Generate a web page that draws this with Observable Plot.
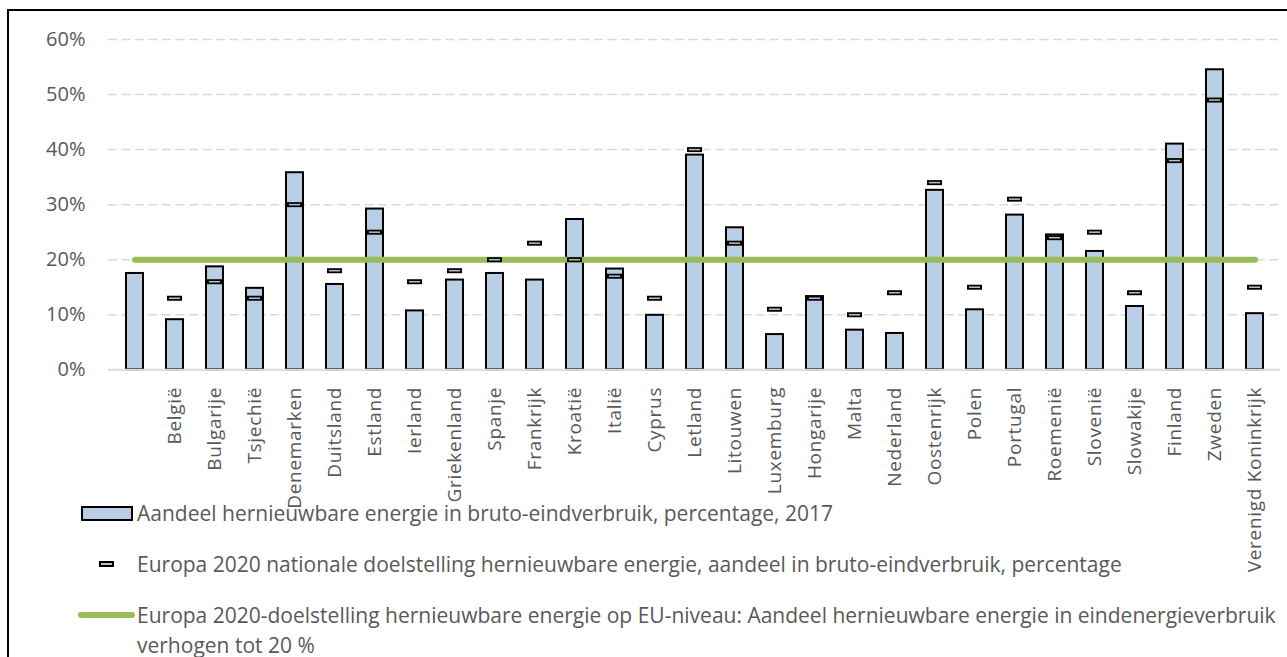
<!DOCTYPE html>
<html><head><meta charset="utf-8">
<script src="https://cdn.jsdelivr.net/npm/d3@7"></script>
<script src="https://cdn.jsdelivr.net/npm/@observablehq/plot@0.6"></script>
<style>
html,body{margin:0;padding:0;background:#fff;overflow:hidden;width:1287px;height:657px;}
#wrap{position:relative;width:1287px;height:657px;font-family:"Open Sans",sans-serif;}
#frame{position:absolute;left:7px;top:9px;width:2000px;height:2000px;border-left:2px solid #000;border-top:2px solid #000;}
#chart{position:absolute;left:0;top:0;}
#chart svg g[aria-label="x-axis tick label"] text{letter-spacing:0.7px;}
.leg{position:absolute;left:137px;color:#595959;font-size:21px;line-height:30px;white-space:nowrap;font-family:"Open Sans",sans-serif;}
.sw{position:absolute;box-sizing:border-box;}
</style></head>
<body>
<div id="wrap">
  <div id="frame"></div>
  <div id="chart"></div>
  <div class="sw" style="left:81px;top:506px;width:52px;height:15px;border:2px solid #000;background:#b9cde5;"></div>
  <div class="leg" style="top:498px;">Aandeel hernieuwbare energie in bruto-eindverbruik, percentage, 2017</div>
  <div class="sw" style="left:99px;top:561px;width:15px;height:6px;border:2px solid #000;background:#bfbfbf;"></div>
  <div class="leg" style="top:549px;">Europa 2020 nationale doelstelling hernieuwbare energie, aandeel in bruto-eindverbruik, percentage</div>
  <div class="sw" style="left:78px;top:612px;width:57px;height:6px;border-radius:3px;background:#9bbb59;"></div>
  <div class="leg" style="top:600px;">Europa 2020-doelstelling hernieuwbare energie op EU-niveau: Aandeel hernieuwbare energie in eindenergieverbruik<br>verhogen tot 20 %</div>
</div>
<script>
const countries = ["EU-28","België","Bulgarije","Tsjechië","Denemarken","Duitsland","Estland","Ierland","Griekenland","Spanje","Frankrijk","Kroatië","Italië","Cyprus","Letland","Litouwen","Luxemburg","Hongarije","Malta","Nederland","Oostenrijk","Polen","Portugal","Roemenië","Slovenië","Slowakije","Finland","Zweden","Verenigd Koninkrijk"];
const tickLabels = ["","België","Bulgarije","Tsjechië","Denemarken","Duitsland","Estland","Ierland","Griekenland","Spanje","Frankrijk","Kroatië","Italië","Cyprus","Letland","Litouwen","Luxemburg","Hongarije","Malta","Nederland","Oostenrijk","Polen","Portugal","Roemenië","Slovenië","Slowakije","Finland","Zweden","Verenigd Koninkrijk"];
const share2017 = [17.5,9.1,18.7,14.8,35.8,15.5,29.2,10.7,16.3,17.5,16.3,27.3,18.3,9.9,39.0,25.8,6.4,13.3,7.2,6.6,32.6,10.9,28.1,24.5,21.5,11.5,41.0,54.5,10.2];
const target2020 = [null,13,16,13,30,18,25,16,18,20,23,20,17,13,40,23,11,13,10,14,34,15,31,24,25,14,38,49,15];
const euTarget = 20;
const yTicks = [0,10,20,30,40,50,60];

const data = countries.map((c,i)=>({country:c, share:share2017[i], target:target2020[i]}));
const targets = data.filter(d=>d.target!=null);
const euLine = countries.map(c=>({country:c, value:euTarget}));

const H = 580;
const chart = Plot.plot({
  width:1287, height:H,
  marginTop:39, marginBottom:H-369.3, marginLeft:108, marginRight:7,
  style:{fontFamily:"Open Sans", overflow:"visible", background:"transparent"},
  x:{domain:countries, paddingInner:0.58, paddingOuter:0.29, axis:null, label:null},
  y:{domain:[0,60], axis:null, label:null},
  marks:[
    Plot.gridY(yTicks.slice(1), {stroke:"#d9d9d9", strokeOpacity:1, strokeWidth:1.5, strokeDasharray:"9,4.5"}),
    Plot.barY(data, {x:"country", y:"share", fill:"#b9cde5", stroke:"black", strokeWidth:2}),
    Plot.ruleY([0], {stroke:"#d9d9d9", strokeWidth:2}),
    Plot.lineY(euLine, {x:"country", y:"value", stroke:"#9bbb59", strokeWidth:6, strokeLinecap:"round"}),
    Plot.tickY(targets, {x:"country", y:"target", stroke:"black", strokeWidth:5, insetLeft:1, insetRight:1}),
    Plot.tickY(targets, {x:"country", y:"target", stroke:"#bfbfbf", strokeWidth:1.5, insetLeft:3, insetRight:3}),
    Plot.axisY(yTicks, {tickSize:0, tickPadding:23, tickFormat:d=>d+"%", fontSize:20, color:"#595959", label:null}),
    Plot.axisX({tickSize:0, tickPadding:17, tickRotate:-90, tickFormat:d=>tickLabels[countries.indexOf(d)], fontSize:19, color:"#595959", label:null})
  ]
});
document.getElementById("chart").appendChild(chart);
</script>
</body></html>
